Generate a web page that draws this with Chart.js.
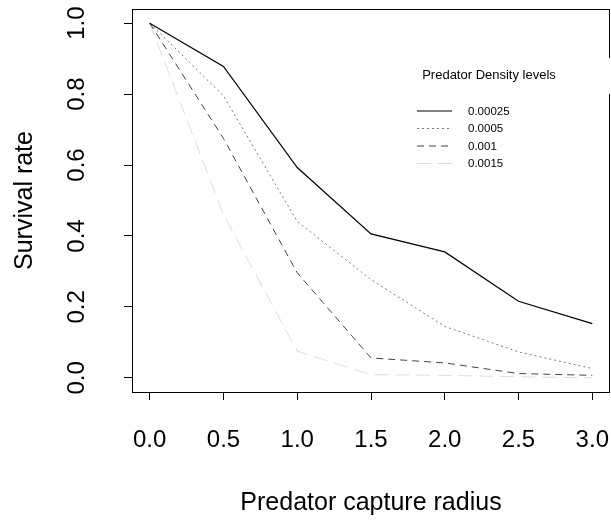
<!DOCTYPE html>
<html>
<head>
<meta charset="utf-8">
<script src="https://cdn.jsdelivr.net/npm/chart.js@4/dist/chart.umd.min.js"></script>
<style>
  html, body { margin: 0; padding: 0; background: #fff; }
  #wrap { width: 611px; height: 521px; }
</style>
</head>
<body>
<div id="wrap"><canvas id="chart" width="611" height="521"></canvas></div>
<script>
// capture radius on x, survival rate per predator density level
const radius = [0, 0.5, 1.0, 1.5, 2.0, 2.5, 3.0];
const dens00025 = [1.0, 0.878, 0.593, 0.406, 0.355, 0.216, 0.153];
const dens0005  = [1.0, 0.795, 0.441, 0.277, 0.145, 0.073, 0.026];
const dens001   = [1.0, 0.675, 0.296, 0.056, 0.042, 0.012, 0.007];
const dens0015  = [1.0, 0.460, 0.075, 0.009, 0.007, 0.003, 0.000];

const densLabels = ["0.00025", "0.0005", "0.001", "0.0015"];
const xTicks = [0, 0.5, 1.0, 1.5, 2.0, 2.5, 3.0];
const yTicks = [0, 0.2, 0.4, 0.6, 0.8, 1.0];

const FONT = "'Liberation Sans', Arial, sans-serif";

function pts(vals) {
    return radius.map((r, i) => ({ x: r, y: vals[i] }));
}

const styles = [
    { color: "#000000", dash: [],      width: 1.2 },
    { color: "#7a7a7a", dash: [2, 3],  width: 1 },
    { color: "#444444", dash: [7, 5],  width: 1 },
    { color: "#dcdcdc", dash: [14, 7], width: 1 }
];

const series = [dens00025, dens0005, dens001, dens0015];

const datasets = series.map((vals, i) => ({
    label: densLabels[i],
    data: pts(vals),
    borderColor: styles[i].color,
    borderDash: styles[i].dash,
    borderWidth: styles[i].width,
    pointRadius: 0,
    fill: false,
    tension: 0
}));

/* box round the plot region, drawn over the lines like R does */
const boxPlugin = {
    id: "rbox",
    afterDatasetsDraw(chart) {
        const { ctx, chartArea: a } = chart;
        ctx.save();
        ctx.strokeStyle = "#000";
        ctx.lineWidth = 1;
        ctx.strokeRect(a.left + 0.5, a.top + 0.5, a.right - a.left - 1, a.bottom - a.top);
        ctx.restore();
    }
};

/* legend in the top right, R style */
const legendPlugin = {
    id: "rlegend",
    afterDraw(chart) {
        const ctx = chart.ctx;
        ctx.save();
        ctx.fillStyle = "#fff";
        ctx.fillRect(405, 58, 206, 36);

        ctx.fillStyle = "#000";
        ctx.font = "13px " + FONT;
        ctx.textAlign = "center";
        ctx.textBaseline = "middle";
        ctx.fillText("Predator Density levels", 489, 75);

        ctx.font = "11.5px " + FONT;
        ctx.textAlign = "left";
        chart.data.datasets.forEach((ds, i) => {
            const y = 110.5 + i * 17.5;
            ctx.strokeStyle = ds.borderColor;
            ctx.lineWidth = ds.borderWidth;
            ctx.setLineDash(ds.borderDash);
            ctx.beginPath();
            ctx.moveTo(417, y + 0.5);
            ctx.lineTo(452, y + 0.5);
            ctx.stroke();
            ctx.setLineDash([]);
            ctx.fillStyle = "#000";
            ctx.fillText(ds.label, 468, y + 1);
        });
        ctx.restore();
    }
};

new Chart(document.getElementById("chart"), {
    type: "line",
    data: { datasets },
    plugins: [boxPlugin, legendPlugin],
    options: {
        responsive: false,
        animation: false,
        layout: { padding: { top: 9, right: 1, left: 0, bottom: 0 }, autoPadding: false },
        plugins: {
            legend: { display: false },
            tooltip: { enabled: false }
        },
        scales: {
            x: {
                type: "linear",
                min: -0.12,
                max: 3.12,
                afterBuildTicks: (s) => { s.ticks = xTicks.map(v => ({ value: v })); },
                afterFit: (s) => {
                    s.height = 129;
                    s.paddingLeft = 0; s.paddingRight = 0;
                },
                border: { display: false },
                grid: { drawOnChartArea: false, drawTicks: true, tickLength: 8, color: "#000" },
                ticks: {
                    color: "#000",
                    padding: 26,
                    maxRotation: 0,
                    autoSkip: false,
                    font: { family: FONT, size: 24 },
                    callback: (v) => Number(v).toFixed(1)
                },
                title: {
                    display: true,
                    text: "Predator capture radius",
                    color: "#000",
                    font: { family: FONT, size: 25 },
                    padding: { top: 0, bottom: 3 }
                }
            },
            y: {
                type: "linear",
                min: -0.04,
                max: 1.04,
                afterBuildTicks: (s) => { s.ticks = yTicks.map(v => ({ value: v })); },
                afterFit: (s) => {
                    s.width = 132;
                    s.paddingTop = 0; s.paddingBottom = 0;
                },
                border: { display: false },
                grid: { drawOnChartArea: false, drawTicks: true, tickLength: 8, color: "#000" },
                ticks: {
                    color: "#000",
                    padding: 30,
                    minRotation: 90,
                    maxRotation: 90,
                    crossAlign: "center",
                    autoSkip: false,
                    font: { family: FONT, size: 24 },
                    callback: (v) => Number(v).toFixed(1)
                },
                title: {
                    display: true,
                    text: "Survival rate",
                    color: "#000",
                    font: { family: FONT, size: 25 },
                    padding: { top: 10, bottom: 0 }
                }
            }
        }
    }
});
</script>
</body>
</html>
